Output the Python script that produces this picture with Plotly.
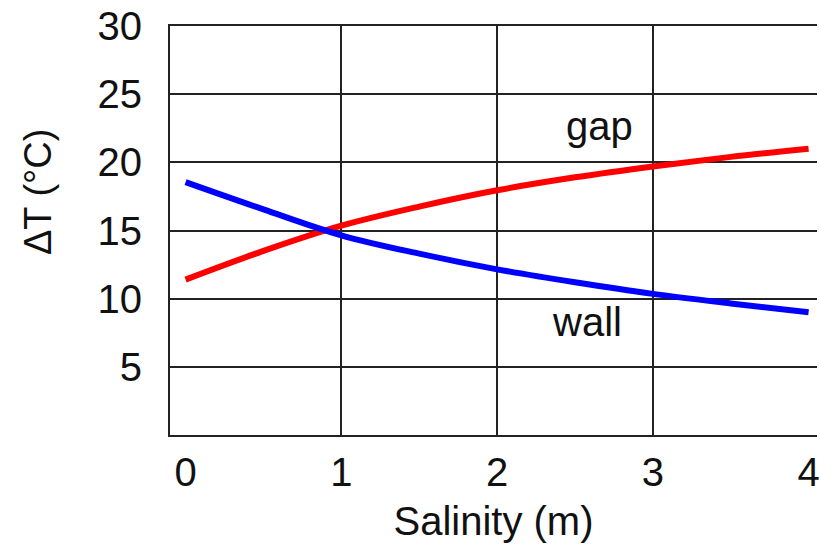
import plotly.graph_objects as go

salinity = [0, 0.5, 1, 1.5, 2, 2.5, 3, 3.5, 4]
gap = [11.4, 13.5, 15.35, 16.75, 17.95, 18.9, 19.7, 20.4, 21.0]
wall = [18.55, 16.55, 14.65, 13.3, 12.15, 11.2, 10.35, 9.65, 9.0]
x_ticks = [0, 1, 2, 3, 4]
y_ticks = [5, 10, 15, 20, 25, 30]
labels = [("gap", 2.66, 22.7), ("wall", 2.58, 8.3)]

FONT = "Liberation Sans, Arial, sans-serif"
fig = go.Figure()
fig.add_trace(go.Scatter(x=salinity, y=gap, mode="lines", line=dict(color="#ff0000", width=6, shape="spline"), showlegend=False))
fig.add_trace(go.Scatter(x=salinity, y=wall, mode="lines", line=dict(color="#0000ff", width=6, shape="spline"), showlegend=False))
# helper trace for secondary x axis holding vertical grid lines
fig.add_trace(go.Scatter(x=[None], y=[None], xaxis="x2", showlegend=False))

for txt, lx, ly in labels:
    fig.add_annotation(x=lx, y=ly, text=txt, showarrow=False, font=dict(family=FONT, size=40, color="#111"))

fig.add_annotation(xref="paper", yref="paper", x=-0.205, y=0.595, text="ΔT (°C)", textangle=-90,
                   showarrow=False, font=dict(family=FONT, size=38, color="#111"), xanchor="center", yanchor="middle")

fig.update_layout(
    width=820, height=552,
    margin=dict(l=170, r=0, t=26, b=117),
    paper_bgcolor="white", plot_bgcolor="white",
    font=dict(family=FONT, size=40, color="#111"),
    xaxis=dict(range=[-0.1, 4.054], tickvals=x_ticks, ticktext=[str(v) for v in x_ticks], showgrid=False,
               showline=True, linecolor="#222", linewidth=2, mirror=True, ticks="", zeroline=False,
               ticklabeloverflow="allow", ticklabelstandoff=1,
               title=dict(text="Salinity (m)", standoff=14, font=dict(size=40))),
    xaxis2=dict(range=[-0.1, 4.054], overlaying="x", tickvals=[1, 2, 3], showticklabels=False,
                showgrid=True, gridcolor="#222", gridwidth=2, zeroline=False, showline=False),
    yaxis=dict(range=[0, 30], tickvals=y_ticks, showgrid=True, gridcolor="#222", gridwidth=2,
               showline=True, linecolor="#222", linewidth=2, ticks="", zeroline=False, ticklabelstandoff=18),
)
fig.write_html("out.html")
